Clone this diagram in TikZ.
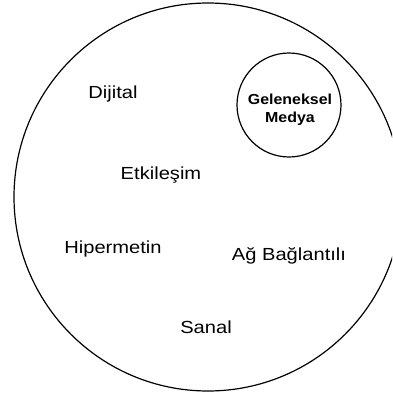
\documentclass[tikz,border=0pt]{standalone}
\usepackage{fontspec}
\setmainfont{Liberation Sans}
\newfontfamily\lblfont[FakeStretch=1.15]{Liberation Sans}
\newfontfamily\boldlbl[FakeStretch=1.1]{Liberation Sans Bold}
\begin{document}
\begin{tikzpicture}[x=1pt,y=-1pt,
  lbl/.style={anchor=base,inner sep=0pt,font=\lblfont\fontsize{17.5}{20}\selectfont},
  blbl/.style={anchor=base,inner sep=0pt,font=\boldlbl\fontsize{14.5}{17}\selectfont},
  ring/.style={draw=black,line width=1.2pt}]
\useasboundingbox (0,0) rectangle (392,394);
\begin{scope}
\clip (0,0) rectangle (392,394);
\node[ring,circle,minimum size=388pt,inner sep=0pt] (outer) at (208,197) {};
\end{scope}
\node[ring,circle,minimum size=104pt,inner sep=0pt] (inner) at (289,105) {};
\node[blbl] (gel) at (290,104) {Geleneksel};
\node[blbl] (med) at (290,122) {Medya};
\node[lbl] (dij) at (113,98) {Dijital};
\node[lbl] (etk) at (161,179) {Etkileşim};
\node[lbl] (hip) at (113,253) {Hipermetin};
\node[lbl] (ag) at (289,260) {Ağ Bağlantılı};
\node[lbl] (san) at (206,333) {Sanal};
\end{tikzpicture}
\end{document}
